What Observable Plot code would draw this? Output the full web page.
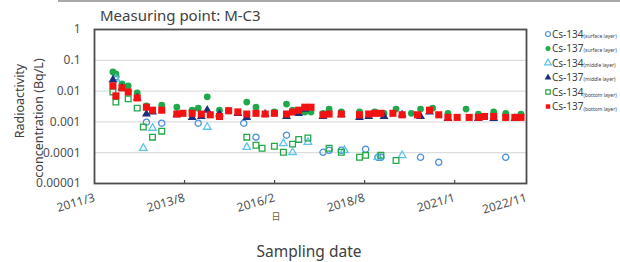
<!DOCTYPE html>
<html><head><meta charset="utf-8">
<script src="https://cdn.jsdelivr.net/npm/d3@7"></script>
<script src="https://cdn.jsdelivr.net/npm/@observablehq/plot@0.6"></script>
<style>
html,body{margin:0;padding:0;background:#fff;}
#chart{width:620px;height:262px;overflow:hidden;}
</style>
</head><body><div id="chart"></div>
<script>
// ---- data ----
const titleText = "Measuring point: M-C3";
const yTitleLines = ["Radioactivity", "concentration (Bq/L)"];
const xTitle = "Sampling date";
const strayGlyph = "日";
const xDomainDates = ["2011-03-01", "2022-12-26"];
const xTickDates = ["2011-03-01", "2013-08-17", "2016-02-03", "2018-07-22", "2021-01-07", "2022-12-26"];
const xTickLabels = ["2011/3", "2013/8", "2016/2", "2018/8", "2021/1", "2022/11"];
const yTicks = [1, 0.1, 0.01, 0.001, 0.0001, 0.00001];
const yTickLabels = ["1", "0.1", "0.01", "0.001", "0.0001", "0.00001"];
const gridValues = [0.1, 0.01, 0.001, 0.0001];

const seriesNames = ["Cs-134", "Cs-137", "Cs-134", "Cs-137", "Cs-134", "Cs-137"];
const seriesLayers = ["(surface layer)", "(surface layer)", "(middle layer)", "(middle layer)", "(bottom layer)", "(bottom layer)"];

const cs134SurfaceDates = ["2011-10","2012-08","2013-01","2014-01","2015-04","2015-08","2016-06","2017-06","2017-08","2017-12","2018-08","2018-12","2019-01","2020-02","2020-08","2022-06"];
const cs134SurfaceValues = [0.029,0.00098,0.00091,0.00091,0.00091,0.00032,0.00037,0.000103,0.00012,0.00012,0.00013,0.000071,0.000071,0.000071,0.000049,0.000071];

const cs137SurfaceDates = ["2011-09","2011-10","2011-12","2012-02","2012-05","2012-08","2013-01","2013-06","2013-11","2014-01","2014-04","2014-08","2014-11","2015-05","2015-08","2016-02","2016-06","2016-08","2016-12","2017-02","2017-06","2017-08","2017-12","2018-06","2018-11","2019-02","2019-06","2019-11","2020-02","2020-06","2020-11","2021-05","2021-09","2022-02","2022-06","2022-11"];
const cs137SurfaceValues = [0.042,0.036,0.017,0.0148,0.0087,0.0033,0.0035,0.0030,0.0024,0.0028,0.0065,0.0024,0.0023,0.0044,0.0030,0.0021,0.0038,0.0024,0.0021,0.0021,0.0019,0.0026,0.0021,0.0021,0.0021,0.0019,0.0026,0.0019,0.0026,0.0028,0.0019,0.0026,0.0018,0.0021,0.0019,0.0018];

const cs134MiddleDates = ["2011-10","2012-07","2012-10","2014-04","2015-05","2016-05","2016-08","2017-01","2018-01","2018-12","2019-08"];
const cs134MiddleValues = [0.025,0.00014,0.00063,0.00068,0.00015,0.00020,0.000103,0.00022,0.00012,0.000071,0.000082];

const cs137MiddleDates = ["2011-09","2011-12","2012-05","2012-08","2012-10","2013-06","2013-11","2014-02","2014-04","2014-08","2015-02","2015-05","2015-11","2016-06","2016-10","2016-12","2017-06","2017-12","2018-06","2018-09","2019-02","2019-08","2020-02","2020-05","2020-11","2021-09","2022-02","2022-09"];
const cs137MiddleValues = [0.023,0.0127,0.0060,0.0018,0.0021,0.0017,0.0014,0.0015,0.0024,0.0018,0.0019,0.0014,0.0018,0.0015,0.0019,0.0026,0.0015,0.0017,0.0014,0.0015,0.0015,0.0017,0.0015,0.0021,0.0013,0.0013,0.0013,0.0013];

const cs134BottomDates = ["2011-09","2011-10","2012-02","2012-05","2012-07","2012-10","2013-01","2015-05","2015-08","2015-10","2016-02","2016-05","2016-08","2016-10","2017-01","2017-08","2017-12","2018-06","2018-08","2019-01","2019-06"];
const cs134BottomValues = [0.0094,0.0044,0.0056,0.0028,0.00068,0.00032,0.00050,0.00032,0.000175,0.00014,0.000162,0.000103,0.00019,0.00027,0.00030,0.00014,0.000103,0.000071,0.000082,0.000082,0.000056];

const cs137BottomDates = ["2011-09","2011-10","2011-12","2012-02","2012-05","2012-08","2012-10","2013-01","2013-06","2013-08","2013-11","2014-02","2014-05","2014-08","2014-11","2015-02","2015-05","2015-08","2015-11","2016-02","2016-06","2016-08","2016-10","2016-12","2017-02","2017-06","2017-08","2017-12","2018-06","2018-09","2018-11","2019-01","2019-05","2019-08","2020-01","2020-05","2020-08","2020-11","2021-02","2021-06","2021-09","2021-11","2022-02","2022-06","2022-09","2022-11"];
const cs137BottomValues = [0.0148,0.0070,0.0127,0.0094,0.0060,0.0030,0.0024,0.0024,0.0018,0.0019,0.0019,0.0018,0.0017,0.0015,0.0023,0.0021,0.0018,0.0019,0.0018,0.0019,0.0018,0.0021,0.0024,0.0030,0.0030,0.0017,0.0018,0.0018,0.0017,0.0018,0.0019,0.0019,0.0019,0.0017,0.0017,0.0024,0.0017,0.0014,0.0014,0.0014,0.0014,0.0015,0.0015,0.0014,0.0014,0.0014];

// ---- styles ----
const styles = [
  {symbol: "circle",   fill: "none",    stroke: "#4a8fd8", r: 3.1},
  {symbol: "circle",   fill: "#1fa94c", stroke: "none",    r: 3.4},
  {symbol: "triangle", fill: "none",    stroke: "#5cc3ee", r: 2.8},
  {symbol: "triangle", fill: "#1b2f7a", stroke: "none",    r: 3.3},
  {symbol: "square",   fill: "none",    stroke: "#22a847", r: 3.2},
  {symbol: "square",   fill: "#f21212", stroke: "none",    r: 4.0}
];

const parseMonth = d3.utcParse("%Y-%m");
const parseDay = d3.utcParse("%Y-%m-%d");
const rows = (dates, values) => d3.zip(dates, values).map(([d, v]) => ({date: parseMonth(d), value: v}));
const seriesData = [
  rows(cs134SurfaceDates, cs134SurfaceValues),
  rows(cs137SurfaceDates, cs137SurfaceValues),
  rows(cs134MiddleDates, cs134MiddleValues),
  rows(cs137MiddleDates, cs137MiddleValues),
  rows(cs134BottomDates, cs134BottomValues),
  rows(cs137BottomDates, cs137BottomValues)
];

const xTicks = xTickDates.map(parseDay);
const xLabelOf = d => xTickLabels[xTicks.findIndex(t => +t === +d)];
const yLabelOf = d => yTickLabels[yTicks.findIndex(t => Math.abs(Math.log10(t) - Math.log10(d)) < 1e-6)];

const textColor = "#505050";
const font = "'Noto Sans', 'Open Sans', sans-serif";

const chart = Plot.plot({
  width: 620, height: 262,
  marginLeft: 94, marginRight: 94, marginTop: 29, marginBottom: 79,
  style: {fontFamily: font, background: "#fff", color: textColor, overflow: "visible"},
  x: {type: "utc", domain: xDomainDates.map(parseDay)},
  y: {type: "log", domain: [1e-5, 1]},
  marks: [
    Plot.gridY(gridValues, {stroke: "#d4d4d4", strokeOpacity: 1, strokeWidth: 1}),
    Plot.axisY(yTicks, {tickSize: 0, tickPadding: 14, tickFormat: yLabelOf, fontSize: 12, fill: textColor, label: null}),
    Plot.axisX(xTicks, {tickSize: 0, tickPadding: 14, tickRotate: -16, textAnchor: "end", tickFormat: xLabelOf, fontSize: 12, fill: textColor, label: null}),
    Plot.ruleX(xTicks.slice(1, -1), {y1: 1e-5, y2: 1.25e-5, stroke: "#444", strokeWidth: 1.2}),
    ...seriesData.map((data, i) => Plot.dot(data, {
      x: "date", y: "value",
      symbol: () => styles[i].symbol,
      r: styles[i].r,
      fill: styles[i].fill, stroke: styles[i].stroke,
      strokeWidth: 1.3
    })),
    Plot.frame({stroke: "#4d4d4d", strokeWidth: 1.8})
  ]
});
document.getElementById("chart").appendChild(chart);

// ---- surrounding texts and legend ----
const svg = d3.select(chart);
svg.append("line").attr("x1", 58).attr("x2", 620).attr("y1", 1).attr("y2", 1)
  .attr("stroke", "#a8a8a8").attr("stroke-width", 2);
svg.append("text").attr("x", 100).attr("y", 21).attr("text-anchor", "start").text(titleText)
  .attr("font-family", font).attr("font-size", 15).attr("fill", "#404040");
const yCenters = [{x: 24, y: 101}, {x: 43, y: 118}];
yTitleLines.forEach((t, i) => {
  svg.append("text").attr("transform", `translate(${yCenters[i].x},${yCenters[i].y}) rotate(-90)`)
    .attr("text-anchor", "middle").text(t)
    .attr("font-family", font).attr("font-size", 12.5).attr("fill", "#404040");
});
svg.append("text").attr("x", 309).attr("y", 257).attr("text-anchor", "middle").text(xTitle)
  .attr("font-family", font).attr("font-size", 15.5).attr("fill", "#404040");
svg.append("text").attr("x", 276).attr("y", 220).attr("text-anchor", "middle").text(strayGlyph)
  .attr("font-family", "'Noto Sans CJK JP', sans-serif").attr("font-size", 9).attr("fill", "#6a6040");

const symbolTypes = {circle: d3.symbolCircle, triangle: d3.symbolTriangle, square: d3.symbolSquare};
const legend = svg.append("g").attr("text-anchor", "start");
seriesNames.forEach((name, i) => {
  const yy = 34 + i * 14.5;
  const s = styles[i];
  legend.append("path")
    .attr("d", d3.symbol(symbolTypes[s.symbol], Math.PI * 2.5 * 2.5)())
    .attr("transform", `translate(548,${yy})`)
    .attr("fill", s.fill).attr("stroke", s.stroke).attr("stroke-width", 1.2);
  const t = legend.append("text").attr("x", 552).attr("y", yy + 3.5).attr("text-anchor", "start")
    .attr("font-family", font).attr("font-size", 10).attr("fill", "#404040");
  t.append("tspan").text(name);
  t.append("tspan").text(seriesLayers[i]).attr("font-size", 5).attr("dy", i >= 4 ? 1 : 0);
});
</script>
</body></html>
